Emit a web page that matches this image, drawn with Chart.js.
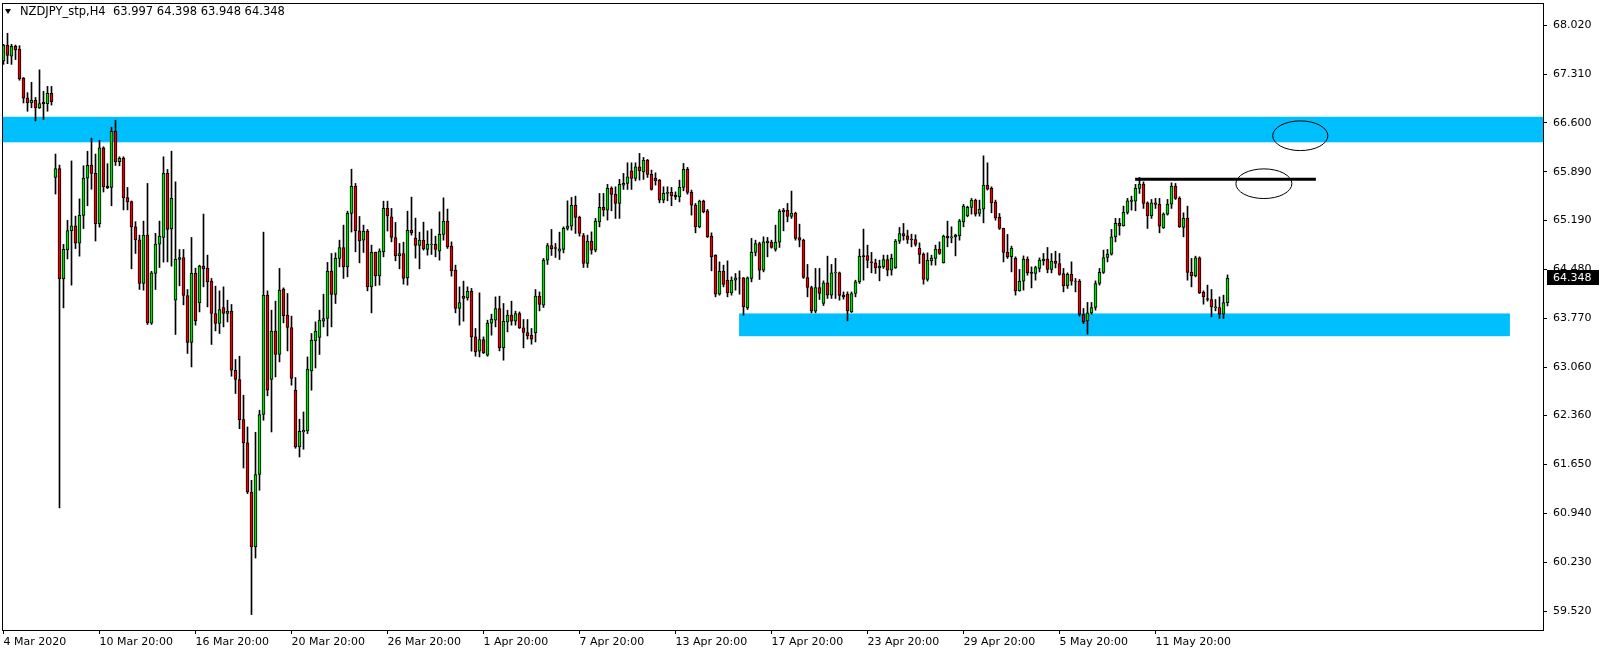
<!DOCTYPE html>
<html>
<head>
<meta charset="utf-8">
<script src="https://cdn.jsdelivr.net/npm/chart.js@4.4.1/dist/chart.umd.min.js"></script>
<style>
  html, body { margin: 0; padding: 0; background: #fff; }
  #wrap { width: 1604px; height: 654px; }
</style>
</head>
<body>
<div id="wrap"><canvas id="nzdjpyChart" width="1604" height="654"></canvas></div>
<script>
// NZDJPY H4 candles (one entry per bar, oldest first)
var opens = [
  67.50, 67.73, 67.57, 67.71, 67.67, 67.25, 66.96, 66.89, 66.93, 66.82, 66.90, 66.88, 67.03,
  65.81, 65.94, 64.34, 64.76, 65.04, 65.11, 64.86, 65.26, 65.80, 65.99, 65.87, 65.14, 66.24, 65.685, 65.666, 66.48, 66.04, 66.09, 65.52, 65.46, 65.095, 64.906, 64.274, 64.975, 63.70, 64.42, 64.844, 64.941, 65.869, 65.066,
  64.032, 64.622, 64.651, 64.10, 63.419, 64.42, 63.993, 64.525, 64.492, 64.308, 63.839, 63.694, 63.926, 63.839, 63.873, 63.017, 62.882, 62.302, 61.963, 61.252, 60.455, 61.505, 62.375, 64.105, 62.882, 63.583, 63.245, 64.192, 63.815, 63.636,
  62.727, 61.905, 62.122, 62.137, 63.007, 63.44, 63.491, 63.727, 63.767, 64.452, 64.115, 64.637, 64.796, 64.515, 65.289, 65.681, 65.038, 64.902, 65.033, 64.225, 64.724, 64.384, 64.732, 65.362, 65.24, 64.941, 64.674, 64.709, 64.355, 65.043,
  64.927, 64.825, 64.902, 64.767, 64.835, 64.84, 64.742, 64.985, 65.178, 64.815, 64.467, 63.912, 64.09, 64.065, 64.162, 63.5, 63.293, 63.462, 63.235, 63.699, 63.742, 63.912, 63.34, 63.717, 63.815, 63.727, 63.839, 63.63, 63.563, 63.525,
  63.558, 64.09, 63.96, 64.612, 64.825, 64.796, 64.742, 64.767, 65.072, 65.105, 65.405, 65.231, 64.97, 64.564, 64.887, 64.757, 65.167, 65.376, 65.337, 65.652, 65.565, 65.434, 65.70, 65.724, 65.907, 65.797, 65.965, 65.892, 66.062, 65.855,
  65.797, 65.772, 65.482, 65.579, 65.594, 65.555, 65.53, 65.666, 65.927, 65.594, 65.41, 65.095, 65.467, 65.327, 64.96, 64.685, 64.119, 64.452, 64.322, 64.138, 64.322, 64.355, 64.355, 63.92, 64.347, 64.724, 64.854, 64.467, 64.863, 64.873,
  64.767, 64.873, 65.333, 65.333, 65.246, 65.294, 64.941, 64.902, 64.361, 64.216, 63.873, 64.216, 63.984, 64.283, 64.105, 64.428, 64.428, 64.105, 64.119, 63.862, 64.129, 64.297, 64.68, 64.68, 64.587, 64.573, 64.50, 64.515, 64.622, 64.467,
  64.50, 64.887, 64.999, 64.964, 64.918, 64.912, 64.782, 64.699, 64.332, 64.602, 64.637, 64.772, 64.573, 64.96, 64.935, 64.95, 64.964, 65.167, 65.254, 65.376, 65.482, 65.289, 65.352, 65.70, 65.652, 65.453, 65.231, 65.072, 64.724, 64.66,
  64.637, 64.167, 64.308, 64.627, 64.434, 64.419, 64.492, 64.602, 64.627, 64.477, 64.597, 64.564, 64.419, 64.24, 64.405, 64.308, 64.308, 63.825, 63.732, 63.848, 63.926, 64.274, 64.434, 64.651, 64.699, 64.95, 65.144, 65.109, 65.304, 65.463,
  65.467, 65.652, 65.714, 65.443, 65.254, 65.443, 65.42, 65.081, 65.279, 65.424, 65.685, 65.507, 65.086, 65.217, 64.434, 64.384, 64.645, 64.144, 64.057, 64.042, 63.92, 63.926, 63.829, 63.997
];
var highs = [
  67.74, 67.90, 67.74, 67.73, 67.72, 67.26, 67.04, 67.19, 66.97, 67.37, 67.06, 67.13, 67.13,
  66.15, 65.99, 64.84, 65.19, 66.05, 65.25, 65.50, 65.98, 66.19, 66.38, 66.15, 66.35, 66.255, 66.01, 66.54, 66.64, 66.11, 66.11, 65.666, 65.47, 65.17, 64.975, 65.178, 65.724, 64.45, 65.00, 65.178, 66.11, 65.927, 66.192,
  65.747, 64.767, 64.767, 64.187, 64.941, 64.496, 64.54, 65.28, 64.685, 64.347, 64.235, 64.167, 64.225, 64.032, 63.97, 63.172, 63.22, 62.655, 62.195, 61.422, 62.118, 62.437, 65.018, 64.167, 63.887, 64.018, 64.492, 64.21, 64.129, 63.80,
  62.911, 62.307, 62.412, 63.21, 63.549, 63.717, 63.887, 64.119, 64.579, 64.709, 64.718, 64.902, 65.12, 65.322, 65.93, 65.724, 65.245, 65.12, 65.057, 64.83, 64.73, 64.776, 65.467, 65.467, 65.362, 65.159, 64.854, 64.873, 65.322, 65.526,
  65.221, 65.018, 65.163, 65.037, 65.062, 64.96, 65.312, 65.515, 65.352, 64.877, 64.54, 64.225, 64.308, 64.225, 64.202, 63.622, 64.138, 63.5, 63.742, 63.829, 64.08, 64.09, 63.984, 63.887, 64.018, 63.873, 63.862, 63.752, 63.752, 63.622,
  64.187, 64.152, 64.637, 64.854, 65.057, 64.854, 65.018, 65.095, 65.472, 65.521, 65.54, 65.25, 64.999, 64.975, 65.022, 65.217, 65.579, 65.579, 65.71, 65.675, 65.675, 65.782, 65.869, 66.023, 66.023, 66.023, 66.159, 66.101, 66.072, 65.917,
  65.878, 65.782, 65.675, 65.675, 65.666, 65.602, 65.772, 66.014, 65.956, 65.627, 65.434, 65.482, 65.482, 65.347, 65.008, 64.69, 64.587, 64.54, 64.602, 64.37, 64.419, 64.457, 64.36, 64.37, 64.927, 64.902, 64.873, 64.95, 64.941, 64.902,
  65.12, 65.347, 65.362, 65.434, 65.613, 65.308, 65.134, 64.917, 64.55, 64.235, 64.492, 64.492, 64.312, 64.67, 64.55, 64.637, 64.44, 64.152, 64.152, 64.152, 64.322, 64.772, 65.062, 64.83, 64.724, 64.627, 64.612, 64.685, 64.685, 64.699,
  64.912, 65.086, 65.144, 65.047, 64.989, 64.98, 64.863, 64.718, 64.718, 64.685, 64.83, 64.877, 64.975, 65.178, 65.095, 64.989, 65.202, 65.42, 65.395, 65.507, 65.497, 65.482, 66.124, 66.023, 65.675, 65.482, 65.289, 65.076, 64.985, 64.815,
  64.66, 64.477, 64.674, 64.66, 64.515, 64.525, 64.645, 64.709, 64.796, 64.709, 64.742, 64.709, 64.492, 64.428, 64.587, 64.347, 64.332, 63.912, 63.999, 63.999, 64.312, 64.492, 64.757, 64.767, 65.057, 65.217, 65.217, 65.395, 65.507, 65.54,
  65.71, 65.811, 65.747, 65.457, 65.492, 65.507, 65.507, 65.298, 65.492, 65.733, 65.724, 65.53, 65.298, 65.395, 64.637, 64.67, 64.66, 64.167, 64.25, 64.187, 64.042, 64.08, 64.105, 64.398
];
var lows = [
  67.45, 67.46, 67.45, 67.52, 67.22, 66.89, 66.77, 66.82, 66.63, 66.81, 66.65, 66.77, 66.86,
  65.57, 61.02, 63.92, 64.63, 64.25, 64.78, 64.67, 65.07, 65.40, 65.64, 64.89, 65.09, 65.60, 65.65, 65.40, 65.985, 65.98, 65.34, 65.34, 64.486, 64.709, 64.187, 64.177, 63.68, 63.68, 64.187, 64.506, 64.583, 64.587, 64.525,
  63.535, 64.24, 63.964, 63.26, 63.065, 63.67, 63.862, 64.225, 63.935, 63.39, 63.587, 63.549, 63.645, 63.717, 62.93, 62.679, 62.17, 61.60, 61.229, 59.475, 60.295, 61.277, 62.292, 62.645, 62.122, 62.92, 63.137, 63.703, 63.297, 62.80,
  61.886, 61.76, 61.872, 62.099, 62.727, 63.05, 63.245, 63.645, 63.514, 63.645, 63.984, 64.515, 64.347, 64.37, 65.019, 64.732, 64.573, 64.724, 64.167, 63.848, 64.24, 64.25, 64.66, 65.034, 64.877, 64.602, 64.486, 64.264, 64.25, 64.975,
  64.641, 64.486, 64.757, 64.685, 64.695, 64.66, 64.612, 64.902, 64.782, 64.38, 63.848, 63.67, 63.727, 64.032, 63.293, 63.22, 63.21, 63.259, 63.22, 63.525, 63.645, 63.297, 63.162, 63.572, 63.67, 63.67, 63.622, 63.34, 63.467, 63.394,
  63.427, 63.877, 63.926, 64.55, 64.68, 64.651, 64.622, 64.718, 65.047, 65.047, 64.999, 64.96, 64.506, 64.506, 64.699, 64.732, 65.095, 65.25, 65.192, 65.327, 65.217, 65.217, 65.637, 65.637, 65.637, 65.762, 65.772, 65.782, 65.811, 65.627,
  65.70, 65.443, 65.443, 65.472, 65.40, 65.492, 65.457, 65.617, 65.569, 65.265, 65.008, 65.081, 65.298, 64.941, 64.457, 64.08, 64.105, 64.225, 64.08, 64.105, 64.177, 64.119, 63.815, 63.897, 64.297, 64.674, 64.332, 64.442, 64.66, 64.786,
  64.742, 64.796, 65.037, 65.167, 65.217, 64.902, 64.805, 64.347, 64.08, 63.848, 63.848, 64.042, 63.955, 64.057, 64.057, 64.057, 64.032, 64.047, 63.732, 63.853, 64.08, 64.274, 64.322, 64.50, 64.428, 64.419, 64.312, 64.492, 64.384, 64.394,
  64.492, 64.854, 64.902, 64.854, 64.805, 64.815, 64.564, 64.264, 64.308, 64.54, 64.54, 64.695, 64.57, 64.805, 64.863, 64.674, 64.902, 65.095, 65.24, 65.279, 65.25, 65.25, 65.153, 65.627, 65.298, 65.192, 65.057, 64.587, 64.637, 64.442,
  64.105, 64.162, 64.177, 64.394, 64.21, 64.322, 64.442, 64.54, 64.428, 64.428, 64.50, 64.394, 64.152, 64.202, 64.25, 64.152, 63.80, 63.694, 63.539, 63.829, 63.887, 64.25, 64.419, 64.587, 64.685, 64.877, 64.975, 65.105, 65.279, 65.337,
  65.327, 65.579, 65.362, 65.072, 65.217, 65.362, 65.008, 65.072, 65.265, 65.362, 65.492, 65.086, 64.95, 64.322, 64.225, 64.37, 64.129, 63.974, 64.018, 63.79, 63.877, 63.767, 63.767, 63.948
];
var closes = [
  67.73, 67.58, 67.71, 67.66, 67.24, 66.96, 66.89, 66.93, 66.82, 66.88, 66.88, 67.03, 66.91,
  65.94, 64.34, 64.77, 65.04, 65.11, 64.86, 65.26, 65.80, 65.985, 65.87, 65.14, 66.24, 65.675, 65.66, 66.478, 66.037, 66.087, 65.515, 65.457, 65.095, 64.906, 64.274, 64.975, 63.703, 64.428, 64.844, 64.96, 65.869, 65.057, 65.507,
  64.627, 64.651, 64.10, 63.419, 64.42, 63.732, 64.525, 64.486, 64.297, 63.839, 63.694, 63.897, 63.839, 63.873, 63.017, 62.882, 62.302, 61.963, 61.252, 60.455, 61.505, 62.375, 64.105, 62.727, 63.583, 63.245, 64.177, 63.804, 63.636, 62.897,
  61.905, 62.132, 62.147, 63.032, 63.452, 63.583, 63.742, 63.767, 64.452, 64.115, 64.637, 64.796, 64.515, 65.289, 65.681, 65.038, 64.892, 65.033, 64.225, 64.724, 64.384, 64.742, 65.362, 65.254, 64.941, 64.674, 64.709, 64.347, 65.043, 65.008,
  64.825, 64.902, 64.776, 64.84, 64.845, 64.767, 64.985, 65.178, 64.805, 64.457, 63.912, 63.999, 64.057, 64.162, 63.5, 63.282, 63.462, 63.268, 63.699, 63.757, 63.912, 63.34, 63.727, 63.815, 63.727, 63.839, 63.63, 63.563, 63.514, 63.467,
  64.09, 63.97, 64.612, 64.825, 64.776, 64.782, 64.776, 65.072, 65.105, 65.405, 65.231, 64.999, 64.564, 64.887, 64.757, 65.178, 65.376, 65.337, 65.652, 65.565, 65.434, 65.71, 65.724, 65.82, 65.797, 65.965, 65.907, 66.062, 65.855, 65.637,
  65.762, 65.482, 65.579, 65.594, 65.544, 65.53, 65.666, 65.927, 65.594, 65.41, 65.095, 65.467, 65.312, 64.95, 64.66, 64.119, 64.452, 64.26, 64.138, 64.322, 64.355, 64.35, 63.935, 64.355, 64.724, 64.854, 64.467, 64.877, 64.887, 64.796,
  64.873, 65.322, 65.312, 65.246, 65.294, 64.927, 64.902, 64.361, 64.216, 63.873, 64.216, 64.129, 64.283, 64.105, 64.428, 64.434, 64.10, 64.08, 63.877, 64.129, 64.297, 64.666, 64.66, 64.608, 64.573, 64.50, 64.525, 64.622, 64.467, 64.637,
  64.887, 64.999, 64.964, 64.912, 64.910, 64.84, 64.695, 64.332, 64.612, 64.641, 64.772, 64.709, 64.96, 64.935, 64.95, 64.975, 65.182, 65.395, 65.376, 65.482, 65.279, 65.352, 65.70, 65.642, 65.443, 65.225, 65.072, 64.724, 64.66, 64.782,
  64.167, 64.308, 64.627, 64.428, 64.419, 64.506, 64.612, 64.627, 64.477, 64.597, 64.564, 64.405, 64.24, 64.405, 64.308, 64.303, 63.825, 63.717, 63.848, 63.926, 64.274, 64.434, 64.651, 64.699, 64.95, 65.144, 65.109, 65.304, 65.472, 65.482,
  65.652, 65.714, 65.434, 65.254, 65.443, 65.42, 65.105, 65.279, 65.424, 65.685, 65.507, 65.095, 65.217, 64.434, 64.384, 64.645, 64.138, 64.08, 64.042, 63.935, 63.935, 63.829, 63.997, 64.348
];

// axis ticks
var xTickBars = [0, 24, 48, 72, 96, 120, 144, 168, 192, 216, 240, 264, 288];
var xTickLabels = ['4 Mar 2020', '10 Mar 20:00', '16 Mar 20:00', '20 Mar 20:00', '26 Mar 20:00', '1 Apr 20:00',
  '7 Apr 20:00', '13 Apr 20:00', '17 Apr 20:00', '23 Apr 20:00', '29 Apr 20:00', '5 May 20:00', '11 May 20:00'];
var yTickValues = [68.020, 67.310, 66.600, 65.890, 65.190, 64.480, 63.770, 63.060, 62.360, 61.650, 60.940, 60.230, 59.520];

// drawn objects (prices, and bar numbers for horizontal extent)
var upperZone = [66.32, 66.69];
var lowerZone = [63.51, 63.84];
var lowerZoneBars = [183.9, 376.6];
var resistanceLine = [282.9, 328.1, 65.784];
var ellipseMarks = [[315.1, 65.72, 7.0, 0.215], [324.2, 66.415, 6.9, 0.215]];

var titleText = 'NZDJPY_stp,H4  63.997 64.398 63.948 64.348';

var FONT = '11px "DejaVu Sans", sans-serif';
var bullColor = '#00dd00';
var bearColor = '#e60000';

var bodyData = opens.map(function (o, i) { return { x: i, y: [o, closes[i]] }; });
var wickData = opens.map(function (o, i) { return { x: i, y: [lows[i], highs[i]] }; });
var bodyColors = opens.map(function (o, i) { return closes[i] >= o ? bullColor : bearColor; });

var overlays = {
    id: 'overlays',
    beforeDatasetsDraw: function (chart) {
        var ctx = chart.ctx, a = chart.chartArea, x = chart.scales.x, y = chart.scales.y;
        ctx.save();
        ctx.beginPath();
        ctx.rect(a.left, a.top, a.right - a.left, a.bottom - a.top);
        ctx.clip();
        ctx.fillStyle = '#00bfff';
        var t = y.getPixelForValue(upperZone[1]), b = y.getPixelForValue(upperZone[0]);
        ctx.fillRect(a.left, t, a.right - a.left, b - t);
        t = y.getPixelForValue(lowerZone[1]); b = y.getPixelForValue(lowerZone[0]);
        var l = x.getPixelForValue(lowerZoneBars[0]), r = x.getPixelForValue(lowerZoneBars[1]);
        ctx.fillRect(l, t, r - l, b - t);
        ctx.restore();
    },
    afterDatasetsDraw: function (chart) {
        var ctx = chart.ctx, a = chart.chartArea, x = chart.scales.x, y = chart.scales.y;
        ctx.save();
        ctx.beginPath();
        ctx.rect(a.left, a.top, a.right - a.left, a.bottom - a.top);
        ctx.clip();
        // resistance line
        var ly = y.getPixelForValue(resistanceLine[2]);
        ctx.strokeStyle = '#000';
        ctx.lineWidth = 3;
        ctx.beginPath();
        ctx.moveTo(x.getPixelForValue(resistanceLine[0]), ly);
        ctx.lineTo(x.getPixelForValue(resistanceLine[1]), ly);
        ctx.stroke();
        // ellipses
        ctx.lineWidth = 1;
        ellipseMarks.forEach(function (e) {
            var cx = x.getPixelForValue(e[0]), cy = y.getPixelForValue(e[1]);
            var rx = x.getPixelForValue(e[0] + e[2]) - cx;
            var ry = cy - y.getPixelForValue(e[1] + e[3]);
            ctx.beginPath();
            ctx.ellipse(cx, cy, rx, ry, 0, 0, Math.PI * 2);
            ctx.stroke();
        });
        ctx.restore();
    },
    afterDraw: function (chart) {
        var ctx = chart.ctx, a = chart.chartArea, y = chart.scales.y;
        ctx.save();
        // frame
        ctx.strokeStyle = '#000';
        ctx.lineWidth = 1;
        ctx.strokeRect(Math.floor(a.left) + 0.5, Math.floor(a.top) + 0.5,
            Math.round(a.right - a.left), Math.round(a.bottom - a.top));
        // title
        ctx.fillStyle = '#000';
        ctx.beginPath();
        ctx.moveTo(5, 9); ctx.lineTo(11, 9); ctx.lineTo(8, 14); ctx.closePath();
        ctx.fill();
        ctx.font = '11.5px "DejaVu Sans", sans-serif';
        ctx.textBaseline = 'middle';
        ctx.textAlign = 'left';
        ctx.fillText(titleText, 20, 12);
        // last price box
        ctx.font = FONT;
        var last = closes[closes.length - 1];
        var py = Math.round(y.getPixelForValue(last));
        ctx.fillStyle = '#000';
        ctx.fillRect(a.right + 4, py - 8, 52, 15);
        ctx.fillStyle = '#fff';
        ctx.fillText(last.toFixed(3), a.right + 10, py);
        ctx.restore();
    }
};

var ctx = document.getElementById('nzdjpyChart').getContext('2d');
var nzdjpyChart = new Chart(ctx, {
    type: 'bar',
    data: {
        datasets: [
            {
                label: 'Body',
                data: bodyData,
                backgroundColor: bodyColors,
                borderColor: '#000',
                borderWidth: 1,
                borderSkipped: false,
                barThickness: 3,
                grouped: false,
                order: 0
            },
            {
                label: 'Wick',
                data: wickData,
                backgroundColor: '#000',
                borderWidth: 0,
                barThickness: 1,
                grouped: false,
                order: 1
            }
        ]
    },
    options: {
        responsive: false,
        animation: false,
        devicePixelRatio: 1,
        layout: { padding: { left: 2, top: 3, right: 0, bottom: 0 } },
        plugins: {
            legend: { display: false },
            tooltip: { enabled: false }
        },
        scales: {
            x: {
                type: 'linear',
                position: 'bottom',
                offset: false,
                min: -0.375,
                max: 384.875,
                afterBuildTicks: function (scale) {
                    scale.ticks = xTickBars.map(function (v) { return { value: v }; });
                },
                afterFit: function (scale) {
                    scale.height = 24;
                    scale.paddingLeft = 0;
                    scale.paddingRight = 0;
                },
                ticks: {
                    autoSkip: false,
                    maxRotation: 0,
                    align: 'start',
                    padding: 2,
                    color: '#000',
                    font: { family: '"DejaVu Sans", sans-serif', size: 11 },
                    callback: function (v, i) { return xTickLabels[i]; }
                },
                grid: { display: true, offset: false, drawOnChartArea: false, tickLength: 4, color: '#000' },
                border: { display: true, color: '#000', width: 1 }
            },
            y: {
                type: 'linear',
                position: 'right',
                min: 59.252,
                max: 68.339,
                afterBuildTicks: function (scale) {
                    scale.ticks = yTickValues.map(function (v) { return { value: v }; });
                },
                afterFit: function (scale) {
                    scale.width = 61;
                    scale.paddingTop = 0;
                    scale.paddingBottom = 0;
                },
                ticks: {
                    padding: 6,
                    color: '#000',
                    font: { family: '"DejaVu Sans", sans-serif', size: 11 },
                    callback: function (v) { return v.toFixed(3); }
                },
                grid: { display: true, drawOnChartArea: false, tickLength: 4, color: '#000' },
                border: { display: true, color: '#000', width: 1 }
            }
        }
    },
    plugins: [overlays]
});
</script>
</body>
</html>
